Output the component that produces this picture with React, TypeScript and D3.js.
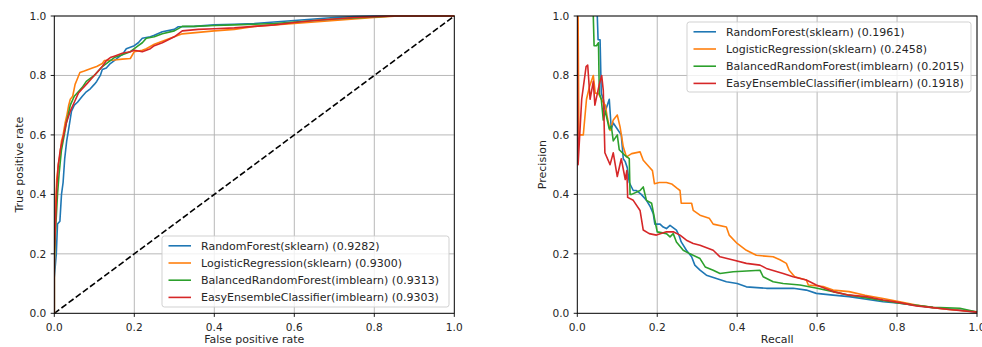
import React from "react";
import * as d3 from "d3";

// ROC curves: [false positive rate, true positive rate]
const rocRandomForest: [number, number][] = [
  [0, 0], [0, 0.12], [0.005, 0.2], [0.008, 0.3], [0.014, 0.31], [0.018, 0.4], [0.022, 0.44],
  [0.026, 0.52], [0.031, 0.58], [0.036, 0.62], [0.043, 0.68], [0.05, 0.7], [0.058, 0.71],
  [0.064, 0.72], [0.07, 0.73], [0.08, 0.745], [0.09, 0.755], [0.1, 0.77], [0.106, 0.78],
  [0.115, 0.8], [0.12, 0.82], [0.13, 0.825], [0.14, 0.84], [0.15, 0.85], [0.164, 0.865],
  [0.17, 0.87], [0.18, 0.89], [0.19, 0.895], [0.2, 0.9], [0.21, 0.91], [0.22, 0.925],
  [0.24, 0.93], [0.25, 0.935], [0.27, 0.947], [0.3, 0.955], [0.31, 0.964], [0.35, 0.965],
  [0.4, 0.97], [0.45, 0.972], [0.5, 0.975], [0.55, 0.98], [0.6, 0.985], [0.65, 0.99],
  [0.7, 0.995], [0.75, 0.998], [0.8, 1.0], [1, 1],
];
const rocLogistic: [number, number][] = [
  [0, 0], [0, 0.15], [0.003, 0.35], [0.006, 0.45], [0.01, 0.5], [0.014, 0.53], [0.018, 0.58],
  [0.022, 0.6], [0.027, 0.64], [0.032, 0.67], [0.036, 0.7], [0.04, 0.72], [0.046, 0.73],
  [0.052, 0.77], [0.058, 0.79], [0.064, 0.81], [0.075, 0.815], [0.085, 0.82], [0.095, 0.825],
  [0.106, 0.83], [0.12, 0.84], [0.125, 0.85], [0.15, 0.852], [0.17, 0.855], [0.19, 0.857],
  [0.2, 0.88], [0.22, 0.885], [0.23, 0.89], [0.25, 0.905], [0.28, 0.92], [0.3, 0.93],
  [0.32, 0.94], [0.36, 0.945], [0.4, 0.95], [0.45, 0.955], [0.5, 0.965], [0.55, 0.97],
  [0.6, 0.975], [0.65, 0.98], [0.7, 0.985], [0.75, 0.99], [0.8, 0.995], [0.86, 1.0], [1, 1],
];
const rocBalancedRF: [number, number][] = [
  [0, 0], [0, 0.18], [0.004, 0.3], [0.008, 0.4], [0.012, 0.47], [0.018, 0.55], [0.025, 0.6],
  [0.03, 0.64], [0.035, 0.67], [0.04, 0.7], [0.05, 0.73], [0.06, 0.745], [0.07, 0.76],
  [0.08, 0.78], [0.09, 0.79], [0.1, 0.8], [0.11, 0.815], [0.12, 0.83], [0.135, 0.845],
  [0.15, 0.86], [0.17, 0.87], [0.19, 0.88], [0.2, 0.89], [0.21, 0.9], [0.22, 0.91],
  [0.23, 0.925], [0.25, 0.93], [0.27, 0.94], [0.3, 0.95], [0.32, 0.965], [0.35, 0.965],
  [0.4, 0.968], [0.45, 0.97], [0.5, 0.972], [0.55, 0.975], [0.6, 0.98], [0.65, 0.985],
  [0.7, 0.99], [0.8, 0.997], [0.85, 1.0], [1, 1],
];
const rocEasyEnsemble: [number, number][] = [
  [0, 0], [0, 0.2], [0.003, 0.3], [0.006, 0.42], [0.01, 0.5], [0.015, 0.55], [0.02, 0.58],
  [0.025, 0.61], [0.03, 0.64], [0.035, 0.66], [0.04, 0.68], [0.05, 0.71], [0.06, 0.74],
  [0.07, 0.755], [0.08, 0.77], [0.09, 0.785], [0.1, 0.8], [0.11, 0.815], [0.12, 0.83],
  [0.13, 0.85], [0.14, 0.86], [0.15, 0.865], [0.17, 0.875], [0.19, 0.88], [0.2, 0.885],
  [0.22, 0.88], [0.24, 0.89], [0.25, 0.9], [0.27, 0.91], [0.3, 0.93], [0.32, 0.95],
  [0.36, 0.955], [0.4, 0.957], [0.45, 0.96], [0.5, 0.965], [0.55, 0.97], [0.6, 0.978],
  [0.65, 0.985], [0.7, 0.99], [0.75, 0.995], [0.8, 0.998], [0.85, 1.0], [1, 1],
];

// Precision-recall curves: [recall, precision]
const prRandomForest: [number, number][] = [
  [0.05, 1.0], [0.052, 0.92], [0.057, 0.92], [0.06, 0.74], [0.065, 0.72], [0.07, 0.68],
  [0.075, 0.7], [0.08, 0.72], [0.085, 0.62], [0.09, 0.64], [0.1, 0.62], [0.11, 0.6],
  [0.115, 0.52], [0.12, 0.51], [0.125, 0.49], [0.13, 0.44], [0.14, 0.413], [0.148, 0.413],
  [0.16, 0.4], [0.173, 0.38], [0.182, 0.36], [0.19, 0.335], [0.194, 0.3], [0.207, 0.3],
  [0.215, 0.29], [0.223, 0.285], [0.232, 0.296], [0.248, 0.28], [0.255, 0.26], [0.26, 0.24],
  [0.273, 0.212], [0.286, 0.19], [0.294, 0.162], [0.307, 0.145], [0.323, 0.128],
  [0.348, 0.117], [0.373, 0.106], [0.4, 0.1], [0.423, 0.089], [0.473, 0.084], [0.54, 0.084],
  [0.573, 0.078], [0.598, 0.067], [0.64, 0.061], [0.68, 0.056], [0.723, 0.047],
  [0.765, 0.039], [0.807, 0.034], [0.89, 0.019], [0.95, 0.012], [1.0, 0.004],
];
const prLogistic: [number, number][] = [
  [0.002, 1.0], [0.004, 0.6], [0.015, 0.6], [0.023, 0.72], [0.03, 0.76], [0.04, 0.8],
  [0.045, 0.74], [0.053, 0.74], [0.06, 0.72], [0.07, 0.7], [0.075, 0.66], [0.082, 0.615],
  [0.09, 0.65], [0.1, 0.667], [0.107, 0.627], [0.115, 0.56], [0.123, 0.526], [0.136, 0.537],
  [0.157, 0.543], [0.165, 0.515], [0.18, 0.492], [0.188, 0.48], [0.193, 0.436], [0.205, 0.44],
  [0.223, 0.44], [0.236, 0.435], [0.25, 0.42], [0.257, 0.413], [0.26, 0.37], [0.286, 0.37],
  [0.29, 0.346], [0.307, 0.33], [0.33, 0.32], [0.34, 0.3], [0.373, 0.29], [0.38, 0.263],
  [0.4, 0.235], [0.423, 0.212], [0.448, 0.195], [0.49, 0.19], [0.507, 0.18], [0.523, 0.168],
  [0.53, 0.145], [0.544, 0.123], [0.573, 0.112], [0.578, 0.095], [0.615, 0.09], [0.64, 0.078],
  [0.68, 0.073], [0.72, 0.061], [0.765, 0.05], [0.807, 0.039], [0.848, 0.028], [0.89, 0.019],
  [0.93, 0.013], [1.0, 0.005],
];
const prBalancedRF: [number, number][] = [
  [0.04, 1.0], [0.042, 0.9], [0.048, 0.9], [0.053, 0.91], [0.055, 0.74], [0.06, 0.72],
  [0.065, 0.65], [0.07, 0.68], [0.08, 0.62], [0.085, 0.63], [0.09, 0.58], [0.1, 0.6],
  [0.105, 0.55], [0.12, 0.53], [0.13, 0.52], [0.132, 0.4], [0.136, 0.4], [0.157, 0.413],
  [0.165, 0.425], [0.173, 0.38], [0.186, 0.37], [0.194, 0.313], [0.2, 0.274], [0.223, 0.268],
  [0.232, 0.257], [0.24, 0.268], [0.248, 0.24], [0.265, 0.212], [0.282, 0.2], [0.307, 0.184],
  [0.32, 0.156], [0.34, 0.145], [0.357, 0.134], [0.39, 0.14], [0.457, 0.145], [0.465, 0.123],
  [0.49, 0.106], [0.515, 0.1], [0.557, 0.095], [0.6, 0.084], [0.64, 0.073], [0.68, 0.061],
  [0.723, 0.052], [0.807, 0.034], [0.89, 0.02], [0.957, 0.017], [1.0, 0.004],
];
const prEasyEnsemble: [number, number][] = [
  [0, 1.0], [0.002, 0.5], [0.011, 0.72], [0.022, 0.83], [0.026, 0.835], [0.032, 0.72],
  [0.04, 0.78], [0.044, 0.7], [0.055, 0.77], [0.061, 0.8], [0.065, 0.75], [0.069, 0.54],
  [0.082, 0.5], [0.09, 0.54], [0.1, 0.46], [0.11, 0.52], [0.12, 0.45], [0.124, 0.48],
  [0.126, 0.39], [0.14, 0.38], [0.157, 0.346], [0.165, 0.28], [0.18, 0.268], [0.198, 0.263],
  [0.223, 0.274], [0.24, 0.274], [0.257, 0.263], [0.273, 0.246], [0.29, 0.235], [0.307, 0.229],
  [0.34, 0.212], [0.357, 0.19], [0.39, 0.179], [0.423, 0.168], [0.457, 0.162], [0.473, 0.151],
  [0.515, 0.134], [0.54, 0.123], [0.573, 0.112], [0.598, 0.095], [0.64, 0.073], [0.68, 0.061],
  [0.723, 0.056], [0.765, 0.045], [0.807, 0.036], [0.848, 0.025], [0.89, 0.019], [0.93, 0.013],
  [1.0, 0.004],
];

const modelNames = [
  "RandomForest(sklearn)",
  "LogisticRegression(sklearn)",
  "BalancedRandomForest(imblearn)",
  "EasyEnsembleClassifier(imblearn)",
];
const rocAuc = ["0.9282", "0.9300", "0.9313", "0.9303"];
const prAuc = ["0.1961", "0.2458", "0.2015", "0.1918"];
const colors = ["#1f77b4", "#ff7f0e", "#2ca02c", "#d62728"];
const ticks = [0, 0.2, 0.4, 0.6, 0.8, 1.0];

const FONT = "DejaVu Sans, sans-serif";

type PanelProps = {
  left: number;
  width: number;
  top: number;
  height: number;
  series: [number, number][][];
  scores: string[];
  xLabel: string;
  yLabel: string;
  legend: { x: number; y: number; w: number; h: number };
  diagonal?: boolean;
};

function Panel({ left, width, top, height, series, scores, xLabel, yLabel, legend, diagonal }: PanelProps) {
  const x = d3.scaleLinear().domain([0, 1]).range([left, left + width]);
  const y = d3.scaleLinear().domain([0, 1]).range([top + height, top]);
  const line = d3
    .line<[number, number]>()
    .x((d) => x(d[0]))
    .y((d) => y(d[1]));
  const fmt = d3.format(".1f");
  const rowH = 17.2;
  return (
    <g fontFamily={FONT} fontSize={11} fill="#262626">
      {ticks.map((t) => (
        <g key={"g" + t}>
          <line x1={x(t)} x2={x(t)} y1={top} y2={top + height} stroke="#b0b0b0" strokeWidth={0.9} />
          <line x1={left} x2={left + width} y1={y(t)} y2={y(t)} stroke="#b0b0b0" strokeWidth={0.9} />
        </g>
      ))}
      {diagonal && (
        <path d={line([[0, 0], [1, 1]]) || ""} stroke="#000" strokeWidth={1.6} strokeDasharray="6.2,2.7" fill="none" />
      )}
      <defs>
        <clipPath id={"clip" + Math.round(left)}>
          <rect x={left} y={top - 1} width={width + 1} height={height + 2} />
        </clipPath>
      </defs>
      <g clipPath={`url(#clip${Math.round(left)})`}>
        {series.map((s, i) => (
          <path key={i} d={line(s) || ""} stroke={colors[i]} strokeWidth={1.6} fill="none" strokeLinejoin="round" />
        ))}
      </g>
      <rect x={left} y={top} width={width} height={height} fill="none" stroke="#000" strokeWidth={0.9} />
      {ticks.map((t) => (
        <g key={"t" + t} fontSize={10.6}>
          <line x1={x(t)} x2={x(t)} y1={top + height} y2={top + height + 3.6} stroke="#000" strokeWidth={0.9} />
          <text x={x(t)} y={top + height + 17.4} textAnchor="middle">{fmt(t)}</text>
          <line x1={left - 3.6} x2={left} y1={y(t)} y2={y(t)} stroke="#000" strokeWidth={0.9} />
          <text x={left - 8} y={y(t) + 3.9} textAnchor="end">{fmt(t)}</text>
        </g>
      ))}
      <text x={left + width / 2} y={top + height + 30} textAnchor="middle">{xLabel}</text>
      <text transform={`translate(${left - 31.5},${top + height / 2}) rotate(-90)`} textAnchor="middle">
        {yLabel}
      </text>
      <rect
        x={legend.x}
        y={legend.y}
        width={legend.w}
        height={legend.h}
        rx={2.5}
        fill="#fff"
        fillOpacity={0.8}
        stroke="#cccccc"
        strokeWidth={0.9}
      />
      {modelNames.map((name, i) => {
        const cy = legend.y + 9.8 + i * rowH;
        return (
          <g key={name}>
            <line x1={legend.x + 6.5} x2={legend.x + 29} y1={cy} y2={cy} stroke={colors[i]} strokeWidth={1.6} />
            <text x={legend.x + 39} y={cy + 4}>{`${name} (${scores[i]})`}</text>
          </g>
        );
      })}
    </g>
  );
}

export default function App() {
  return (
    <div style={{ position: "absolute", left: 0, top: 0 }}>
      <svg width={982} height={347} style={{ display: "block", background: "#fff" }}>
        <Panel
          left={54.3}
          width={400}
          top={16}
          height={297.3}
          series={[rocRandomForest, rocLogistic, rocBalancedRF, rocEasyEnsemble]}
          scores={rocAuc}
          xLabel="False positive rate"
          yLabel="True positive rate"
          legend={{ x: 162, y: 236, w: 287, h: 71 }}
          diagonal
        />
        <Panel
          left={577.3}
          width={399.7}
          top={16}
          height={297.3}
          series={[prRandomForest, prLogistic, prBalancedRF, prEasyEnsemble]}
          scores={prAuc}
          xLabel="Recall"
          yLabel="Precision"
          legend={{ x: 687, y: 22, w: 284, h: 70 }}
        />
      </svg>
    </div>
  );
}
